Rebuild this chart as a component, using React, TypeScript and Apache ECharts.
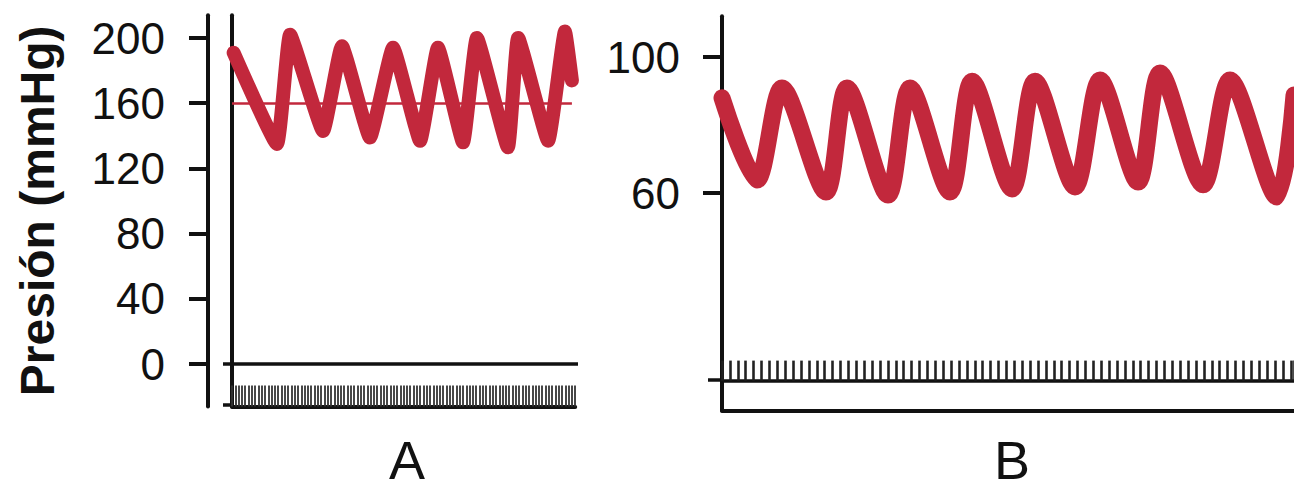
import React, { useEffect, useRef } from "react";
import * as echarts from "echarts";

// ---------- Panel A ----------
const aTickValues = [0, 40, 80, 120, 160, 200];
const aTime = [0.5, 13.6, 17.6, 27.6, 33.3, 41.8, 48.8, 57, 62.4, 70, 74.2, 83.6, 86.7, 95.8, 100.9, 103];
const aPressure = [191, 135, 202, 143, 195, 139, 194, 137, 194, 136, 200, 133, 200, 137, 204, 174];
const aMeanPressure = 160;
const aMeanEnd = 103;
const aMarkerEnd = 104;
const aZeroLineEnd = 107;
const aBaseTicks = [0, -25];

// ---------- Panel B ----------
const bTickValues = [60, 100];
const bTime = [0, 4.43, 7.59, 13.16, 15.82, 21.01, 23.8, 28.86, 31.65, 36.71, 39.62, 44.68, 47.85, 52.66, 55.44, 60.89, 64.3, 70.25, 72.4];
const bPressure = [88, 63.8, 90.9, 60.3, 90.9, 59.4, 90.9, 60.3, 92.9, 61.2, 92.9, 61.8, 93.2, 63.2, 95.3, 62.4, 93.2, 58.8, 88.8];
const bMarkerEnd = 72.4;
const bMarkerBase = [5];

const panelLabels = ["A", "B"];
const yTitle = "Presión (mmHg)";

const RED = "#c2283c";
const INK = "#111111";
const FONT = "'Liberation Sans', Arial, Helvetica, sans-serif";

export default function App() {
  const ref = useRef<HTMLDivElement>(null);

  useEffect(() => {
    if (!ref.current) return;
    const chart = echarts.init(ref.current, null, { renderer: "svg" });

    const option: any = {
      animation: false,
      textStyle: { fontFamily: FONT },
      grid: [
        { left: 232, top: 15.2, width: 343.2, height: 391.2, containLabel: false },
        { left: 722, top: 16.2, width: 572, height: 394.4, containLabel: false },
      ],
      xAxis: [
        {
          gridIndex: 0, type: "value", position: "bottom", min: 0, max: aMarkerEnd, interval: 1,
          axisLine: { show: true, onZero: false, lineStyle: { color: INK, width: 4 } },
          axisTick: { show: true, inside: true, length: 21, lineStyle: { color: "#333", width: 1.8 } },
          axisLabel: { show: false }, splitLine: { show: false },
        },
        {
          gridIndex: 1, type: "value", position: "bottom", min: 0, max: bMarkerEnd,
          axisLine: { show: true, onZero: false, lineStyle: { color: INK, width: 4 } },
          axisTick: { show: false }, axisLabel: { show: false }, splitLine: { show: false },
        },
        {
          gridIndex: 1, type: "value", position: "bottom", min: 0, max: bMarkerEnd, interval: 1, offset: -30,
          axisLine: { show: true, onZero: false, lineStyle: { color: INK, width: 3.5 } },
          axisTick: { show: true, inside: true, length: 20, lineStyle: { color: "#222", width: 2.6 } },
          axisLabel: { show: false }, splitLine: { show: false },
        },
      ],
      yAxis: [
        {
          gridIndex: 0, type: "value", position: "left", min: -26, max: 214, offset: 24,
          axisLine: { show: true, onZero: false, lineStyle: { color: INK, width: 4 } },
          axisTick: { show: true, customValues: aTickValues, length: 19, lineStyle: { color: INK, width: 4 } },
          axisLabel: { show: true, customValues: aTickValues, fontSize: 44, margin: 43, color: INK, fontFamily: FONT },
          splitLine: { show: false },
          name: yTitle, nameLocation: "middle", nameGap: 147,
          nameTextStyle: { fontSize: 48, fontWeight: "bold", color: INK, fontFamily: FONT },
        },
        {
          gridIndex: 0, type: "value", position: "left", min: -26, max: 214, offset: 0,
          axisLine: { show: true, onZero: false, lineStyle: { color: INK, width: 4 } },
          axisTick: { show: true, customValues: aBaseTicks, length: 9, lineStyle: { color: INK, width: 3.5 } },
          axisLabel: { show: false }, splitLine: { show: false },
        },
        {
          gridIndex: 1, type: "value", position: "left", min: -4, max: 112,
          axisLine: { show: true, onZero: false, lineStyle: { color: INK, width: 4 } },
          axisTick: { show: true, customValues: bTickValues, length: 19, lineStyle: { color: INK, width: 4 } },
          axisLabel: { show: true, customValues: bTickValues, fontSize: 44, margin: 42, color: INK, fontFamily: FONT },
          splitLine: { show: false },
        },
        {
          gridIndex: 1, type: "value", position: "left", min: -4, max: 112, offset: 0,
          axisLine: { show: false, onZero: false },
          axisTick: { show: true, customValues: bMarkerBase, length: 14, lineStyle: { color: INK, width: 3.5 } },
          axisLabel: { show: false }, splitLine: { show: false },
        },
      ],
      series: [
        {
          type: "line", xAxisIndex: 0, yAxisIndex: 1,
          data: [[0, 0], [aZeroLineEnd, 0]],
          clip: false, symbol: "none", silent: true,
          lineStyle: { color: INK, width: 3.5 },
        },
        {
          type: "line", xAxisIndex: 0, yAxisIndex: 0,
          data: aTime.map((t, i) => [t, aPressure[i]]),
          smooth: 0.12, symbol: "none", silent: true,
          lineStyle: { color: RED, width: 14, join: "round", cap: "round" },
          markLine: {
            silent: true, symbol: "none", label: { show: false },
            lineStyle: { color: RED, width: 2.5, type: "solid" },
            data: [[{ coord: [0, aMeanPressure] }, { coord: [aMeanEnd, aMeanPressure] }]],
          },
        },
        {
          type: "line", xAxisIndex: 1, yAxisIndex: 2,
          data: bTime.map((t, i) => [t, bPressure[i]]),
          smooth: 0.3, symbol: "none", silent: true,
          lineStyle: { color: RED, width: 17, join: "round", cap: "round" },
        },
      ],
      graphic: [
        {
          type: "text", x: 407, y: 487, silent: true,
          style: { text: panelLabels[0], fontSize: 54, fill: INK, align: "center", verticalAlign: "bottom", fontFamily: FONT },
        },
        {
          type: "text", x: 1012, y: 487, silent: true,
          style: { text: panelLabels[1], fontSize: 54, fill: INK, align: "center", verticalAlign: "bottom", fontFamily: FONT },
        },
      ],
    };

    chart.setOption(option);
    return () => chart.dispose();
  }, []);

  return (
    <div
      ref={ref}
      style={{ position: "absolute", left: 0, top: 0, width: 1294, height: 487, background: "#ffffff" }}
    />
  );
}
